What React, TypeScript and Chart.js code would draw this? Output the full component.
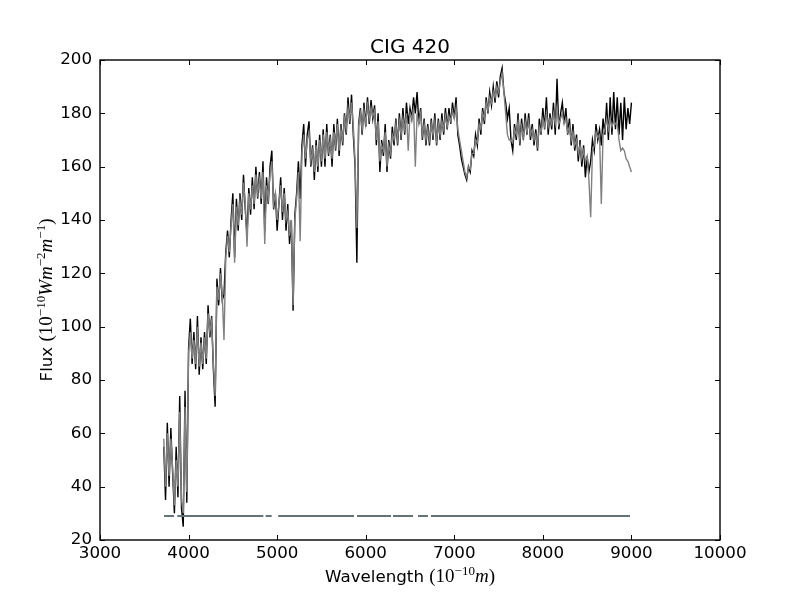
import React, { useEffect, useRef } from "react";
import { Chart, registerables } from "chart.js";

Chart.register(...registerables);

// sampling grid of the spectrum (Angstrom), 3720 ... 9000 every 20
const wavelength: number[] = Array.from({ length: 265 }, (_, i) => 3720 + i * 20);

// observed flux (black), one row = 200 A
const fluxObserved: number[] = [
    55, 35, 64, 40, 62, 45, 30, 55, 36, 74, // 3720
    32, 25, 76, 34, 92, 103, 86, 98, 84, 104, // 3920
    82, 96, 84, 98, 86, 108, 96, 104, 84, 70, // 4120
    118, 108, 122, 110, 112, 128, 136, 126, 140, 150, // 4320
    126, 148, 136, 150, 140, 157, 144, 134, 152, 142, // 4520
    156, 144, 160, 148, 158, 146, 162, 136, 156, 146, // 4720
    160, 166, 144, 150, 136, 146, 156, 140, 152, 136, // 4920
    146, 131, 140, 106, 142, 150, 162, 148, 168, 176, // 5120
    160, 172, 177, 160, 168, 155, 170, 158, 172, 160, // 5320
    174, 160, 176, 164, 172, 160, 176, 166, 178, 164, // 5520
    176, 168, 180, 172, 186, 176, 187, 172, 160, 124, // 5720
    176, 182, 172, 184, 175, 186, 176, 185, 178, 183, // 5920
    168, 180, 158, 170, 164, 176, 158, 170, 163, 175, // 6120
    168, 178, 168, 180, 170, 182, 172, 184, 176, 182, // 6320
    178, 186, 180, 188, 176, 182, 170, 178, 168, 176, // 6520
    168, 178, 170, 180, 168, 178, 170, 180, 172, 182, // 6720
    174, 182, 176, 184, 178, 186, 172, 168, 163, 160, // 6920
    157, 155, 160, 158, 166, 164, 172, 168, 178, 172, // 7120
    182, 176, 186, 180, 188, 183, 190, 184, 192, 186, // 7320
    194, 197, 188, 184, 178, 182, 170, 166, 176, 170, // 7520
    180, 168, 178, 170, 180, 172, 180, 170, 176, 168, // 7720
    174, 166, 178, 172, 182, 174, 186, 172, 180, 174, // 7920
    184, 172, 193, 174, 180, 184, 176, 182, 172, 178, // 8120
    168, 176, 166, 172, 162, 170, 160, 168, 156, 164, // 8320
    158, 162, 170, 166, 176, 170, 174, 168, 178, 172, // 8520
    184, 170, 186, 172, 188, 174, 186, 172, 184, 170, // 8720
    186, 174, 182, 176, 184, // 8920
];

// model flux (gray)
const fluxModel: number[] = [
    58, 40, 60, 44, 58, 47, 33, 50, 40, 68, // 3720
    35, 30, 70, 38, 90, 98, 88, 95, 86, 100, // 3920
    85, 94, 86, 96, 88, 105, 98, 102, 86, 74, // 4120
    115, 110, 120, 112, 95, 126, 134, 128, 138, 146, // 4320
    124, 145, 138, 147, 142, 154, 146, 130, 150, 144, // 4520
    153, 146, 157, 150, 155, 148, 158, 131, 153, 148, // 4720
    157, 162, 146, 150, 140, 146, 153, 143, 150, 140, // 4920
    143, 134, 140, 108, 140, 148, 158, 132, 165, 172, // 5120
    163, 170, 173, 162, 166, 158, 168, 160, 170, 162, // 5320
    172, 163, 173, 166, 170, 163, 173, 168, 176, 166, // 5520
    174, 170, 178, 174, 182, 178, 184, 175, 162, 137, // 5720
    175, 180, 174, 181, 176, 183, 178, 182, 179, 181, // 5920
    170, 177, 162, 168, 166, 173, 160, 168, 165, 172, // 6120
    170, 176, 170, 177, 172, 178, 174, 180, 166, 180, // 6320
    178, 182, 160, 180, 176, 180, 172, 176, 170, 174, // 6520
    170, 176, 172, 177, 170, 176, 172, 177, 174, 179, // 6720
    175, 179, 177, 181, 178, 182, 174, 170, 166, 162, // 6920
    158, 156, 160, 159, 165, 165, 170, 169, 176, 174, // 7120
    180, 178, 184, 181, 186, 184, 188, 186, 190, 188, // 7320
    192, 195, 188, 180, 172, 170, 170, 169, 174, 172, // 7520
    177, 170, 175, 171, 177, 173, 177, 172, 174, 170, // 7720
    172, 168, 175, 173, 178, 175, 180, 175, 178, 176, // 7920
    180, 176, 182, 176, 178, 180, 176, 178, 173, 175, // 8120
    170, 173, 168, 170, 165, 168, 163, 166, 162, 164, // 8320
    155, 141, 166, 168, 173, 171, 172, 146, 172, 174, // 8520
    178, 174, 178, 175, 177, 176, 176, 170, 166, 167, // 8720
    166, 163, 162, 160, 158, // 8920
];

// masked-pixel flag line, drawn as segments
const maskStart: number[] = [3723, 3873, 4870, 5012, 5902, 6308, 6590, 6737];
const maskEnd: number[] = [3835, 4844, 4938, 5868, 6286, 6534, 6703, 8984];
const maskLevel = 29;

const xTicks: number[] = [3000, 4000, 5000, 6000, 7000, 8000, 9000, 10000];
const yTicks: number[] = [20, 40, 60, 80, 100, 120, 140, 160, 180, 200];

const titleText = "CIG 420";

type Part = { text: string; font: string; rise?: number };

const SANS = '16.7px "DejaVu Sans"';
const SERIF = '19px "Liberation Serif"';
const ITAL = 'italic 19px "Liberation Serif"';
const SUP = '13px "Liberation Serif"';

const xLabelParts: Part[] = [
    { text: "Wavelength ", font: SANS },
    { text: "(10", font: SERIF },
    { text: "\u221210", font: SUP, rise: 7 },
    { text: "m", font: ITAL },
    { text: ")", font: SERIF },
];

const yLabelParts: Part[] = [
    { text: "Flux ", font: SANS },
    { text: "(10", font: SERIF },
    { text: "\u221210", font: SUP, rise: 7 },
    { text: "Wm", font: ITAL },
    { text: "\u22122", font: SUP, rise: 7 },
    { text: "m", font: ITAL },
    { text: "\u22121", font: SUP, rise: 7 },
    { text: ")", font: SERIF },
];

function drawMixed(ctx: CanvasRenderingContext2D, parts: Part[], cx: number, baseline: number) {
    let w = 0;
    parts.forEach((p) => {
        ctx.font = p.font;
        w += ctx.measureText(p.text).width;
    });
    let x = cx - w / 2;
    ctx.textAlign = "left";
    ctx.textBaseline = "alphabetic";
    parts.forEach((p) => {
        ctx.font = p.font;
        ctx.fillText(p.text, x, baseline - (p.rise || 0));
        x += ctx.measureText(p.text).width;
    });
}

// frame, inward ticks on all sides, title and axis labels
const framePlugin = {
    id: "mplFrame",
    afterDraw(chart: any) {
        const { ctx, chartArea: a, scales } = chart;
        const tl = 5;
        ctx.save();
        ctx.strokeStyle = "#000";
        ctx.lineWidth = 1;
        ctx.beginPath();
        scales.x.ticks.forEach((t: any) => {
            const px = Math.round(scales.x.getPixelForValue(t.value)) + 0.5;
            ctx.moveTo(px, a.bottom);
            ctx.lineTo(px, a.bottom - tl);
            ctx.moveTo(px, a.top);
            ctx.lineTo(px, a.top + tl);
        });
        scales.y.ticks.forEach((t: any) => {
            const py = Math.round(scales.y.getPixelForValue(t.value)) + 0.5;
            ctx.moveTo(a.left, py);
            ctx.lineTo(a.left + tl, py);
            ctx.moveTo(a.right, py);
            ctx.lineTo(a.right - tl, py);
        });
        ctx.stroke();
        ctx.lineWidth = 1.4;
        ctx.strokeRect(a.left, a.top, a.right - a.left, a.bottom - a.top);

        ctx.fillStyle = "#000";
        ctx.font = '20px "DejaVu Sans"';
        ctx.textAlign = "center";
        ctx.textBaseline = "alphabetic";
        ctx.fillText(titleText, (a.left + a.right) / 2, 53);

        drawMixed(ctx, xLabelParts, (a.left + a.right) / 2, 582);

        ctx.translate(52, (a.top + a.bottom) / 2);
        ctx.rotate(-Math.PI / 2);
        drawMixed(ctx, yLabelParts, 0, 0);
        ctx.restore();
    },
};

const App = () => {
    const chartRef = useRef<HTMLCanvasElement | null>(null);

    useEffect(() => {
        if (!chartRef.current) return;
        const ctx = chartRef.current.getContext("2d");
        if (!ctx) return;

        const maskData: any[] = [];
        maskStart.forEach((s, i) => {
            maskData.push({ x: s, y: maskLevel });
            maskData.push({ x: maskEnd[i], y: maskLevel });
            maskData.push({ x: maskEnd[i] + 1, y: null });
        });

        const chart = new Chart(ctx, {
            type: "line",
            data: {
                datasets: [
                    {
                        label: "mask",
                        data: maskData,
                        borderColor: "#647373",
                        borderWidth: 2,
                        pointRadius: 0,
                        spanGaps: false,
                    },
                    {
                        label: "model",
                        data: wavelength.map((w, i) => ({ x: w, y: fluxModel[i] })),
                        borderColor: "#808080",
                        borderWidth: 1.4,
                        pointRadius: 0,
                    },
                    {
                        label: "observed",
                        data: wavelength.map((w, i) => ({ x: w, y: fluxObserved[i] })),
                        borderColor: "#000000",
                        borderWidth: 1.4,
                        pointRadius: 0,
                    },
                ],
            },
            options: {
                responsive: false,
                animation: false,
                events: [],
                layout: { padding: { left: 50, right: 80, top: 60, bottom: 30 } },
                plugins: {
                    legend: { display: false },
                    tooltip: { enabled: false },
                },
                elements: { line: { tension: 0 } },
                scales: {
                    x: {
                        type: "linear",
                        min: 3000,
                        max: 10000,
                        grid: { display: false, drawTicks: false },
                        border: { display: false },
                        afterBuildTicks: (s: any) => {
                            s.ticks = xTicks.map((v) => ({ value: v }));
                        },
                        afterFit: (s: any) => {
                            s.height = 30;
                        },
                        ticks: {
                            color: "#000",
                            padding: 4,
                            maxRotation: 0,
                            font: { family: "DejaVu Sans", size: 16.7 },
                            callback: (v: any) => String(v),
                        },
                    },
                    y: {
                        type: "linear",
                        min: 20,
                        max: 200,
                        grid: { display: false, drawTicks: false },
                        border: { display: false },
                        afterBuildTicks: (s: any) => {
                            s.ticks = yTicks.map((v) => ({ value: v }));
                        },
                        afterFit: (s: any) => {
                            s.width = 50;
                        },
                        ticks: {
                            color: "#000",
                            padding: 8,
                            font: { family: "DejaVu Sans", size: 16.7 },
                            callback: (v: any) => String(v),
                        },
                    },
                },
            },
            plugins: [framePlugin],
        });

        return () => {
            chart.destroy();
        };
    }, []);

    return (
        <div style={{ position: "absolute", left: 0, top: 0, width: 800, height: 600, background: "#fff" }}>
            <canvas ref={chartRef} width={800} height={600}></canvas>
        </div>
    );
};

export default App;
